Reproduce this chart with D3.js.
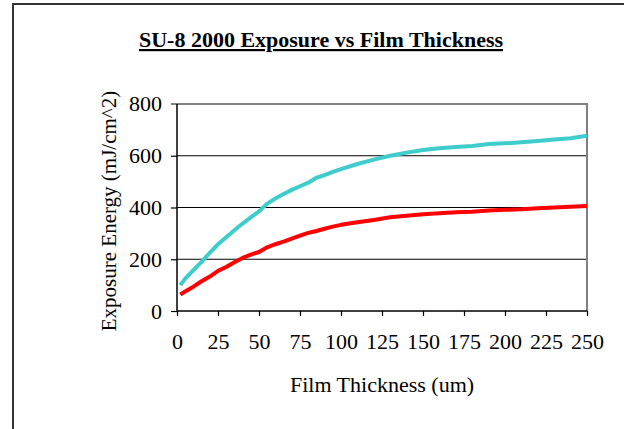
<!DOCTYPE html>
<html>
<head>
<meta charset="utf-8">
<script src="https://cdn.jsdelivr.net/npm/d3@7"></script>
<style>
  body { margin: 0; background: #fff; }
  text { font-family: "Liberation Serif", "DejaVu Serif", serif; fill: #000; }
</style>
</head>
<body>
<div id="chart"></div>
<script>
// data
const thickness = [2, 5, 10, 15, 20, 25, 30, 35, 40, 45, 50, 55, 60, 65, 70, 75, 80, 85, 90, 95,
  100, 110, 120, 130, 140, 150, 160, 170, 180, 190, 200, 210, 220, 230, 240, 250];
const cyanSeries = [100, 125, 158, 190, 225, 258, 285, 312, 338, 362, 385, 415, 435, 452, 468, 482, 496, 515, 525, 538,
  548, 568, 585, 600, 612, 622, 629, 634, 638, 645, 648, 652, 657, 663, 668, 677];
const redSeries = [64, 75, 94, 115, 133, 155, 170, 188, 205, 218, 228, 246, 258, 268, 280, 291, 302, 309, 318, 326,
  333, 343, 352, 362, 368, 374, 378, 382, 384, 388, 391, 393, 397, 400, 403, 406];
const xTicks = [0, 25, 50, 75, 100, 125, 150, 175, 200, 225, 250];
const yTicks = [0, 200, 400, 600, 800];

const width = 624, height = 429;
const plot = { left: 177, right: 587, top: 104, bottom: 311 };
const fontSize = "22px";

const svg = d3.select("#chart").append("svg")
  .attr("width", width)
  .attr("height", height);

// outer frame
svg.append("path")
  .attr("d", `M13,${height} L13,4 L${width},4`)
  .attr("fill", "none")
  .attr("stroke", "#333")
  .attr("stroke-width", 2);

const x = d3.scaleLinear().domain([0, 250]).range([plot.left, plot.right]);
const y = d3.scaleLinear().domain([0, 800]).range([plot.bottom, plot.top]);

// gridlines
svg.append("g")
  .selectAll("line")
  .data(yTicks.filter(d => d > 0 && d < 800))
  .join("line")
  .attr("x1", plot.left).attr("x2", plot.right)
  .attr("y1", d => y(d)).attr("y2", d => y(d))
  .attr("stroke", "#000")
  .attr("stroke-width", 1);

// plot border top and right (grey)
svg.append("path")
  .attr("d", `M${plot.left - 6},${y(800)} L${plot.right},${y(800)} L${plot.right},${plot.bottom}`)
  .attr("fill", "none")
  .attr("stroke", "#808080")
  .attr("stroke-width", 2);

// axes
const xAxis = svg.append("g")
  .attr("transform", `translate(0,${plot.bottom})`)
  .call(d3.axisBottom(x).tickValues(xTicks).tickSize(5).tickPadding(17));
const yAxis = svg.append("g")
  .attr("transform", `translate(${plot.left},0)`)
  .call(d3.axisLeft(y).tickValues(yTicks.filter(d => d < 800)).tickSize(6).tickPadding(9));

[xAxis, yAxis].forEach(a => {
  a.select(".domain").attr("stroke", "#000").attr("stroke-width", 1.5);
  a.selectAll(".tick line").attr("stroke", "#000").attr("stroke-width", 1.2);
  a.selectAll("text").style("font-family", '"Liberation Serif", serif').style("font-size", fontSize).attr("fill", "#000");
});
xAxis.select(".domain").attr("d", `M${plot.left},0H${plot.right}`);
yAxis.select(".domain").attr("d", `M0,${plot.bottom}V${plot.top}`);

// 800 label (tick is the grey border)
svg.append("text")
  .attr("x", plot.left - 15)
  .attr("y", y(800))
  .attr("dy", "0.32em")
  .attr("text-anchor", "end")
  .style("font-size", fontSize)
  .text("800");

// lines
const line = d3.line()
  .x((d, i) => x(thickness[i]))
  .y(d => y(d));

svg.append("path")
  .datum(cyanSeries)
  .attr("d", line)
  .attr("fill", "none")
  .attr("stroke", "#3ecccc")
  .attr("stroke-width", 4)
  .attr("stroke-linejoin", "round");

svg.append("path")
  .datum(redSeries)
  .attr("d", line)
  .attr("fill", "none")
  .attr("stroke", "#ff0000")
  .attr("stroke-width", 4)
  .attr("stroke-linejoin", "round");

// title
svg.append("text")
  .attr("x", 321)
  .attr("y", 47)
  .attr("text-anchor", "middle")
  .style("font-size", fontSize)
  .style("font-weight", "bold")
  .style("text-decoration", "underline")
  .text("SU-8 2000 Exposure vs Film Thickness");

// axis titles
svg.append("text")
  .attr("x", 382)
  .attr("y", 392)
  .attr("text-anchor", "middle")
  .style("font-size", fontSize)
  .text("Film Thickness (um)");

svg.append("text")
  .attr("transform", `translate(116,211) rotate(-90)`)
  .attr("text-anchor", "middle")
  .style("font-size", "21px")
  .text("Exposure Energy (mJ/cm^2)");
</script>
</body>
</html>
